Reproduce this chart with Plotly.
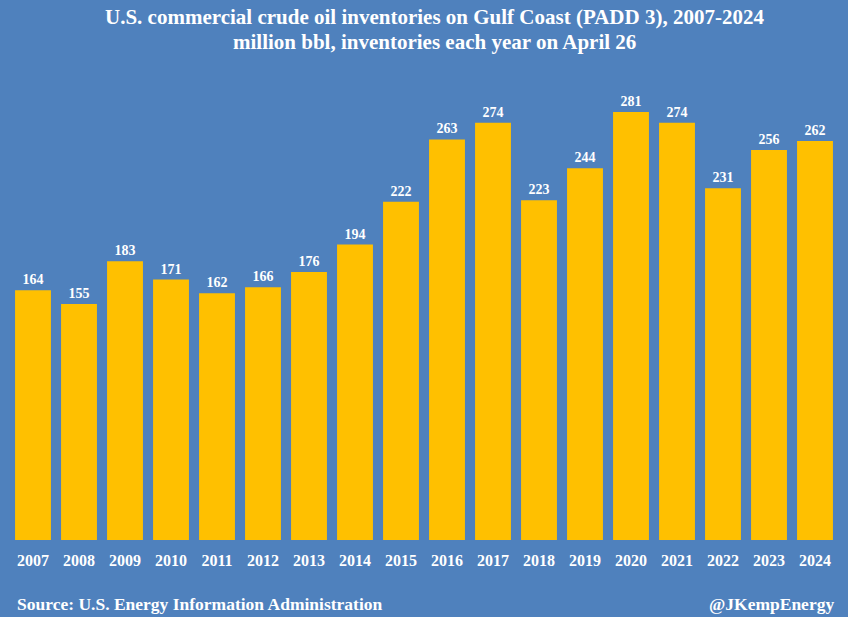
import plotly.graph_objects as go

years = [str(y) for y in range(2007, 2025)]
values = [164, 155, 183, 171, 162, 166, 176, 194, 222, 263, 274, 223, 244, 281, 274, 231, 256, 262]

title_line1 = "U.S. commercial crude oil inventories on Gulf Coast (PADD 3), 2007-2024"
title_line2 = "million bbl, inventories each year on April 26"

BG = "#4f81bd"
BAR = "#ffc000"
FONT = "Liberation Serif"

fig = go.Figure()
fig.add_trace(go.Bar(
    x=years, y=values,
    marker=dict(color=BAR, line=dict(width=0)),
    texttemplate="<b>%{y}</b>",
    textposition="outside",
    textfont=dict(family=FONT, size=14, color="white"),
    cliponaxis=False,
))

fig.update_layout(
    width=848, height=617,
    paper_bgcolor=BG, plot_bgcolor=BG,
    margin=dict(l=10, r=10, t=80, b=77),
    bargap=0.22,
    showlegend=False,
    font=dict(family=FONT, color="white"),
    xaxis=dict(
        type="category", showgrid=False, zeroline=False, showline=False,
        ticks="", tickfont=dict(family=FONT, size=16, color="white"),
        tickprefix="<b>", ticksuffix="</b>", ticklabelstandoff=9,
    ),
    yaxis=dict(range=[0, 302], visible=False, showgrid=False, zeroline=False),
    annotations=[
        dict(text="<b>" + title_line1 + "</b>",
             xref="paper", yref="paper", x=0.513, y=1.137, xanchor="center", yanchor="middle",
             showarrow=False, font=dict(family=FONT, size=21, color="white")),
        dict(text="<b>" + title_line2 + "</b>",
             xref="paper", yref="paper", x=0.513, y=1.0826, xanchor="center", yanchor="middle",
             showarrow=False, font=dict(family=FONT, size=21, color="white")),
        dict(text="<b>Source: U.S. Energy Information Administration</b>",
             xref="paper", yref="paper", x=0.006, y=-0.139, xanchor="left", yanchor="middle",
             showarrow=False, font=dict(family=FONT, size=17.5, color="white")),
        dict(text="<b>@JKempEnergy</b>",
             xref="paper", yref="paper", x=0.998, y=-0.139, xanchor="right", yanchor="middle",
             showarrow=False, font=dict(family=FONT, size=17.5, color="white")),
    ],
)

fig.write_html("out.html", config={"displayModeBar": False},
               post_script="document.body.style.margin='0';document.body.style.overflow='hidden';")
